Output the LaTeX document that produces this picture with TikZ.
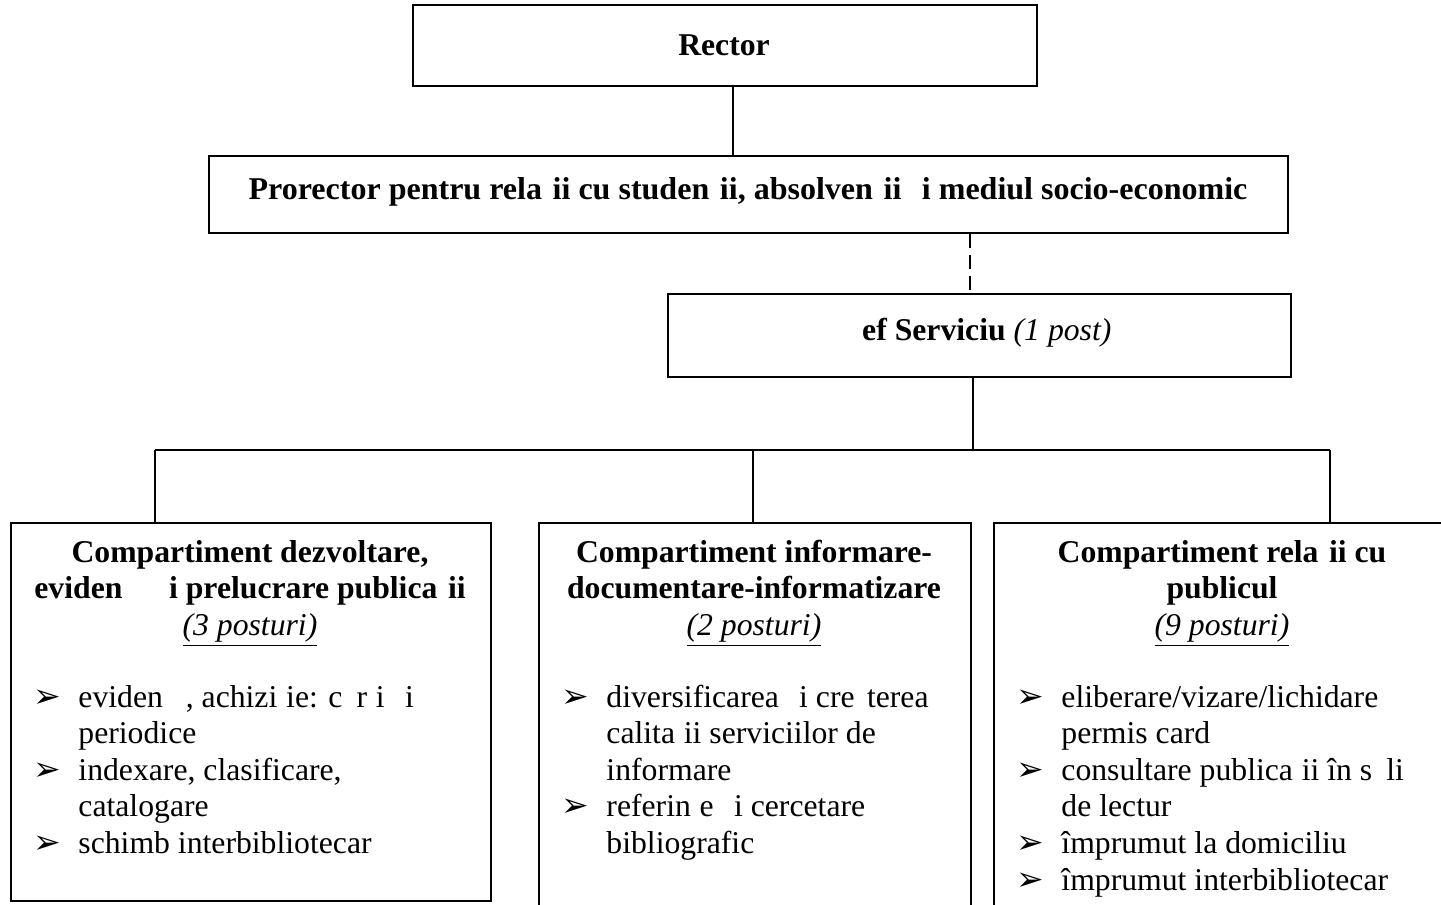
\documentclass[tikz,border=0pt]{standalone}
\usepackage{fontspec}
\setmainfont{Liberation Serif}
\newfontfamily\arrowfont{DejaVu Sans}
\usetikzlibrary{positioning}

\newlength{\pxu}
\setlength{\pxu}{0.3785pt}
\newcommand{\bul}{\makebox[17pt][l]{\arrowfont\fontsize{12.5}{12}\selectfont\char"27A2}}
\newcommand{\cnt}{\hspace*{17pt}}

\begin{document}
\begin{tikzpicture}[x=0.3785pt, y=-0.3785pt,
    box/.style = {draw, line width=0.75pt, inner sep=0pt, anchor=north west},
    link/.style = {line width=0.75pt},
    head/.style = {font=\fontsize{12}{13.85}\selectfont\bfseries, anchor=base, inner sep=0pt},
    title/.style = {font=\fontsize{12}{13.85}\selectfont\bfseries, align=center, anchor=north, inner sep=0pt},
    list/.style = {font=\fontsize{12}{13.85}\selectfont, align=left, anchor=north west, inner sep=0pt}]
    \clip (0,0) rectangle (1441,904);
    % boxes
    \node[box, minimum width=624\pxu, minimum height=81\pxu] (rector) at (412,4) {};
    \node[box, minimum width=1079\pxu, minimum height=77\pxu] (prorector) at (208,155) {};
    \node[box, minimum width=623\pxu, minimum height=83\pxu] (sef) at (667,293) {};
    \node[box, minimum width=480\pxu, minimum height=378\pxu] (cdez) at (10,522) {};
    \node[box, minimum width=432\pxu, minimum height=400\pxu] (cinf) at (538,522) {};
    \node[box, minimum width=470\pxu, minimum height=400\pxu] (cpub) at (993,522) {};
    % top texts
    \node[head] (trector) at (724,56) {Rector};
    \node[head] (tprorector) at (748,199) {\scalebox{1.01}[1]{Prorector pentru rela\phantom{ț}ii cu studen\phantom{ț}ii, absolven\phantom{ț}ii \phantom{ș}i mediul socio-economic}};
    \node[head] (tsef) at (978,340) {\phantom{Ș}ef Serviciu \textnormal{\textit{(1 post)}}};
    % compartments
    \node[title] (hdez) at (250,536) {\strut Compartiment dezvoltare,\\ eviden\phantom{ță} \phantom{ș}i prelucrare publica\phantom{ț}ii\\ \textnormal{\textit{\underline{(3 posturi)}}}};
    \node[title] (hinf) at (754,536) {\strut Compartiment informare-\\ documentare-informatizare\\ \textnormal{\textit{\underline{(2 posturi)}}}};
    \node[title] (hpub) at (1222,536) {\strut Compartiment rela\phantom{ț}ii cu\\ publicul\\ \textnormal{\textit{\underline{(9 posturi)}}}};
    \node[list] (ldez) at (33,681) {\strut\bul eviden\phantom{ță}, achizi\phantom{ț}ie: c\phantom{ă}r\phantom{ț}i \phantom{ș}i\\ \cnt periodice\\ \bul indexare, clasificare,\\ \cnt catalogare\\ \bul schimb interbibliotecar};
    \node[list] (linf) at (561,681) {\strut\bul diversificarea \phantom{ș}i cre\phantom{ș}terea\\ \cnt calita\phantom{ț}ii serviciilor de\\ \cnt informare\\ \bul referin\phantom{ț}e \phantom{ș}i cercetare\\ \cnt bibliografic\phantom{ă}};
    \node[list] (lpub) at (1016,681) {\strut\bul eliberare/vizare/lichidare\\ \cnt permis card\\ \bul consultare publica\phantom{ț}ii în s\phantom{ă}li\\ \cnt de lectur\phantom{ă}\\ \bul împrumut la domiciliu\\ \bul împrumut interbibliotecar};
    % connectors
    \coordinate (jr) at (733,0);
    \coordinate (jd) at (970,0);
    \coordinate (busS) at (973,450);
    \coordinate (busL) at (155,450);
    \coordinate (busM) at (753,450);
    \coordinate (busR) at (1330,450);
    \draw[link] (rector.south -| jr) -- (prorector.north -| jr);
    \draw[link, dash pattern=on 5.3pt off 2.7pt] (prorector.south -| jd) -- (sef.north -| jd);
    \draw[link] (sef.south -| busS) -- (busS);
    \draw[link] (busL) -- (busR);
    \draw[link] (busL) -- (busL |- cdez.north);
    \draw[link] (busM) -- (busM |- cinf.north);
    \draw[link] (busR) -- (busR |- cpub.north);
\end{tikzpicture}
\end{document}
